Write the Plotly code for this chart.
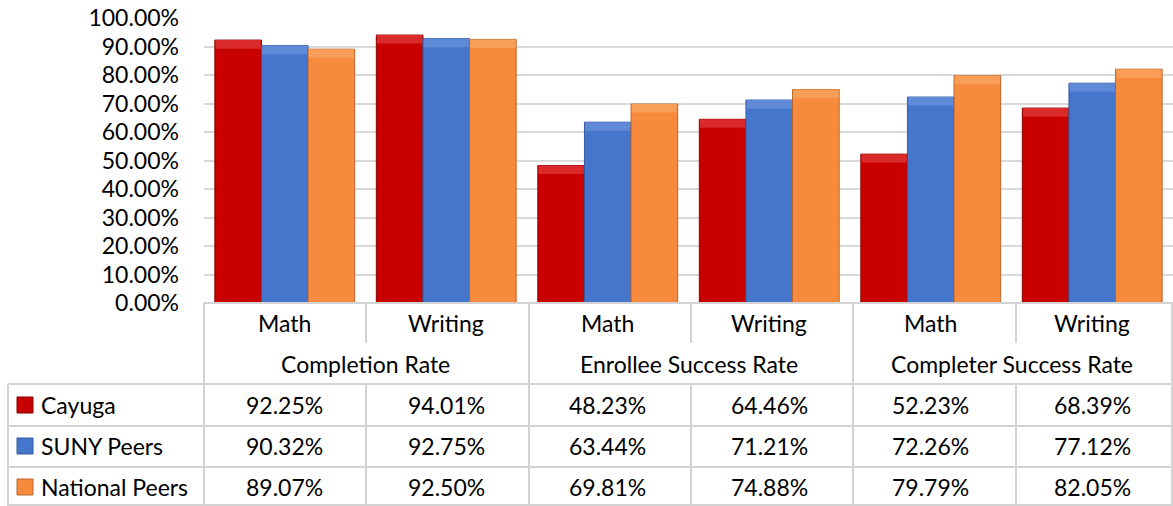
import plotly.graph_objects as go

W, H = 1173, 506

groups = ["Completion Rate", "Enrollee Success Rate", "Completer Success Rate"]
subjects = ["Math", "Writing", "Math", "Writing", "Math", "Writing"]
series_names = ["Cayuga", "SUNY Peers", "National Peers"]
cayuga = [92.25, 94.01, 48.23, 64.46, 52.23, 68.39]
suny = [90.32, 92.75, 63.44, 71.21, 72.26, 77.12]
national = [89.07, 92.50, 69.81, 74.88, 79.79, 82.05]
series_values = [cayuga, suny, national]

fills = ["#C80000", "#4676CC", "#F78A3C"]
caps = ["#DA2A2A", "#5F8AD8", "#F99E58"]
edges = ["#8A0000", "#345A9E", "#B8672D"]

FONT = "Lato"
FS = 23
TXT = "#000000"
GRID = "#D9D9D9"
BORDER = "#D3D3D3"


def px(x):
    return x / W


def py(y):
    return 1 - y / H


xs = list(range(len(subjects)))
cluster = 0.866
bw = cluster / 3
CAP = 0.03

fig = go.Figure()
for k, (name, vals, f, c, e) in enumerate(zip(series_names, series_values, fills, caps, edges)):
    off = -cluster / 2 + k * bw
    fig.add_trace(go.Bar(
        x=xs, y=[v / 100 for v in vals], name=name, width=bw, offset=off,
        marker=dict(color=f, line=dict(color=e, width=1)),
        showlegend=False, hoverinfo="skip",
    ))
    fig.add_trace(go.Bar(
        x=xs, y=[CAP] * len(vals), base=[v / 100 - CAP for v in vals],
        width=bw * 0.97, offset=off + bw * 0.015,
        marker=dict(color=c, line=dict(width=0)),
        showlegend=False, hoverinfo="skip",
    ))

shapes = []


def hline(y, x0, x1):
    shapes.append(dict(type="line", xref="paper", yref="paper",
                       x0=px(x0), x1=px(x1), y0=py(y), y1=py(y),
                       line=dict(color=BORDER, width=2), layer="above"))


def vline(x, y0, y1):
    shapes.append(dict(type="line", xref="paper", yref="paper",
                       x0=px(x), x1=px(x), y0=py(y0), y1=py(y1),
                       line=dict(color=BORDER, width=2), layer="above"))


# table grid
hline(303, 204, 1173)
hline(384, 8, 1173)
hline(426, 8, 1173)
hline(467, 8, 1173)
hline(505, 8, 1173)
vline(8, 384, 506)
vline(204, 303, 506)
for xb in [366, 691, 1016]:
    vline(xb, 303, 343)
    vline(xb, 384, 506)
for xb in [529, 853]:
    vline(xb, 303, 506)
vline(1172, 303, 506)

annotations = []
for i, s in enumerate(subjects):
    annotations.append(dict(x=i, xref="x", y=py(323), yref="paper", text=s,
                            showarrow=False, xanchor="center", yanchor="middle",
                            font=dict(family=FONT, size=FS, color=TXT)))
for g, gname in enumerate(groups):
    annotations.append(dict(x=2 * g + 0.5, xref="x", y=py(364), yref="paper", text=gname,
                            showarrow=False, xanchor="center", yanchor="middle",
                            font=dict(family=FONT, size=FS, color=TXT)))
row_y = [405, 446, 487]
for r, (name, vals, f, e) in enumerate(zip(series_names, series_values, fills, edges)):
    yc = row_y[r]
    annotations.append(dict(x=px(39), xref="paper", y=py(yc), yref="paper", text=name,
                            showarrow=False, xanchor="left", yanchor="middle",
                            font=dict(family=FONT, size=FS, color=TXT)))
    shapes.append(dict(type="rect", xref="paper", yref="paper",
                       x0=px(17), x1=px(33), y0=py(yc + 8), y1=py(yc - 8),
                       fillcolor=f, line=dict(color=e, width=1)))
    for i, v in enumerate(vals):
        annotations.append(dict(x=i, xref="x", y=py(yc), yref="paper", text=f"{v:.2f}%",
                                showarrow=False, xanchor="center", yanchor="middle",
                                font=dict(family=FONT, size=FS, color=TXT)))

fig.update_layout(
    template="none",
    width=W, height=H,
    margin=dict(l=0, r=0, t=0, b=0, pad=0, autoexpand=False),
    paper_bgcolor="white", plot_bgcolor="white",
    barmode="overlay",
    xaxis=dict(domain=[px(204), 1], range=[-0.5, 5.5], showticklabels=False,
               showgrid=False, zeroline=False, showline=False, ticks="",
               automargin=False, fixedrange=True),
    yaxis=dict(domain=[py(303), py(18)], range=[0, 1], tickformat=".2%", dtick=0.1,
               tick0=0, showgrid=True, gridcolor=GRID, gridwidth=2, zeroline=False,
               showline=False, ticks="", ticklabelstandoff=24, automargin=False,
               tickfont=dict(family=FONT, size=FS, color=TXT), fixedrange=True),
    shapes=shapes, annotations=annotations,
    showlegend=False,
)

fig.write_html("out.html")
